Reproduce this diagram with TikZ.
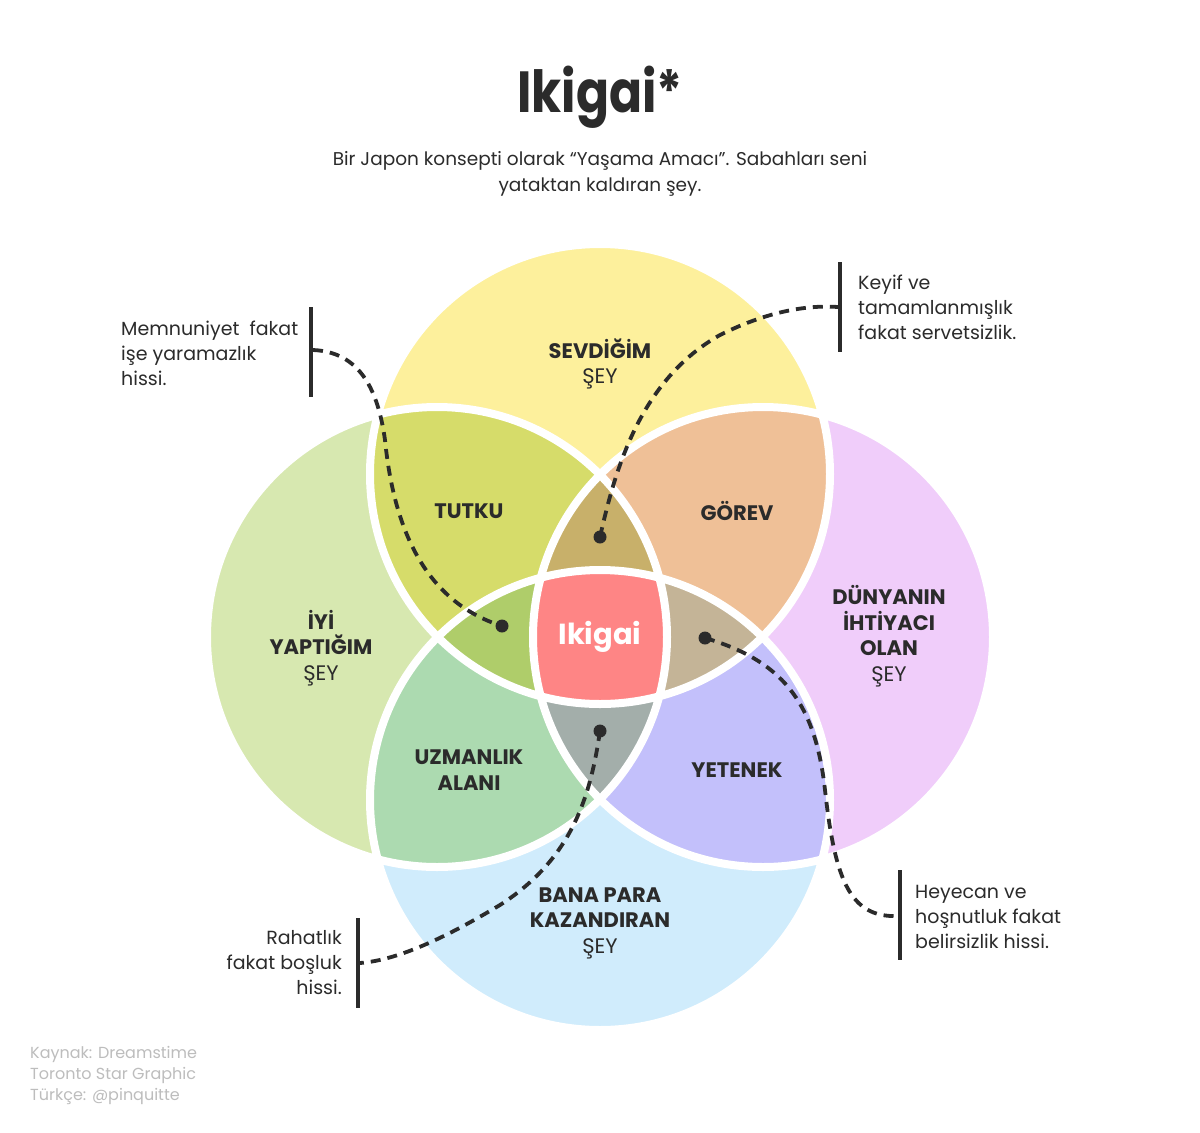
\documentclass[tikz,border=0pt]{standalone}
\usepackage{fontspec}
\setmainfont{Poppins}
\definecolor{ink}{HTML}{2B2B2B}
\definecolor{cTop}{HTML}{FDF09C}
\definecolor{cLeft}{HTML}{D7E8B0}
\definecolor{cRight}{HTML}{F0CDFA}
\definecolor{cBot}{HTML}{D0ECFC}
\definecolor{cTL}{HTML}{D6DC6A}
\definecolor{cTR}{HTML}{EFC097}
\definecolor{cBL}{HTML}{ACDAB0}
\definecolor{cBR}{HTML}{C3C0FB}
\definecolor{cTLR}{HTML}{C8B06A}
\definecolor{cTLB}{HTML}{AFCD6A}
\definecolor{cTRB}{HTML}{C4B497}
\definecolor{cLRB}{HTML}{A3AEAA}
\definecolor{cIki}{HTML}{FE8585}
\definecolor{credit}{HTML}{BDBDBD}
\tikzset{
  lbl/.style={font=\fontsize{21}{25.5}\selectfont, text=ink, align=center, inner sep=0},
  blbl/.style={lbl, font=\fontsize{21}{25.5}\selectfont\bfseries},
  ann/.style={font=\fontsize{19}{25}\selectfont, text=ink, inner sep=0},
  dashline/.style={draw=ink, line width=3.8pt, dash pattern=on 10pt off 7pt},
  barline/.style={draw=ink, line width=3.8pt},
  dotnode/.style={circle, fill=ink, minimum size=13pt, inner sep=0},
  sep/.style={draw=white, line width=8pt}
}
\begin{document}
\begin{tikzpicture}[x=1pt,y=-1pt]
\useasboundingbox (0,0) rectangle (1200,1133);
\fill[white] (0,0) rectangle (1200,1133);
\def\R{230pt}
\coordinate (T) at (600,474);
\coordinate (L) at (437,637);
\coordinate (Rc) at (763,637);
\coordinate (B) at (600,800);
% base circles
\fill[cTop] (T) circle[radius=\R];
\fill[cLeft] (L) circle[radius=\R];
\fill[cRight] (Rc) circle[radius=\R];
\fill[cBot] (B) circle[radius=\R];
% pairs
\begin{scope}\clip (T) circle[radius=\R]; \fill[cTL] (L) circle[radius=\R];\end{scope}
\begin{scope}\clip (T) circle[radius=\R]; \fill[cTR] (Rc) circle[radius=\R];\end{scope}
\begin{scope}\clip (B) circle[radius=\R]; \fill[cBL] (L) circle[radius=\R];\end{scope}
\begin{scope}\clip (B) circle[radius=\R]; \fill[cBR] (Rc) circle[radius=\R];\end{scope}
% triples
\begin{scope}\clip (T) circle[radius=\R]; \clip (L) circle[radius=\R]; \fill[cTLR] (Rc) circle[radius=\R];\end{scope}
\begin{scope}\clip (T) circle[radius=\R]; \clip (L) circle[radius=\R]; \fill[cTLB] (B) circle[radius=\R];\end{scope}
\begin{scope}\clip (T) circle[radius=\R]; \clip (Rc) circle[radius=\R]; \fill[cTRB] (B) circle[radius=\R];\end{scope}
\begin{scope}\clip (B) circle[radius=\R]; \clip (L) circle[radius=\R]; \fill[cLRB] (Rc) circle[radius=\R];\end{scope}
% quadruple
\begin{scope}\clip (T) circle[radius=\R]; \clip (L) circle[radius=\R]; \clip (Rc) circle[radius=\R]; \fill[cIki] (B) circle[radius=\R];\end{scope}
% white separators
\draw[sep] (T) circle[radius=\R];
\draw[sep] (L) circle[radius=\R];
\draw[sep] (Rc) circle[radius=\R];
\draw[sep] (B) circle[radius=\R];

% title
\node[font=\fontsize{58}{60}\selectfont\bfseries, text=ink, inner sep=0] (title) at (600,97) {\scalebox{0.84}[1]{Ikigai*}};
\node[font=\fontsize{18.5}{25.5}\selectfont, text=ink, align=center, inner sep=0] (sub) at (600,174)
  {Bir Japon konsepti olarak “Yaşama Amacı”. Sabahları seni\\yataktan kaldıran şey.};

% region labels
\node[lbl] (sev) at (600,364) {\textbf{SEVDİĞİM}\\ŞEY};
\node[lbl] (iyi) at (321,648) {\textbf{İYİ}\\\textbf{YAPTIĞIM}\\ŞEY};
\node[lbl] (dun) at (889,636) {\textbf{DÜNYANIN}\\\textbf{İHTİYACI}\\\textbf{OLAN}\\ŞEY};
\node[lbl] (bana) at (600,923) {\textbf{BANA PARA}\\\textbf{KAZANDIRAN}\\ŞEY};
\node[blbl] (tutku) at (469,511) {TUTKU};
\node[blbl] (gorev) at (737,511) {GÖREV};
\node[blbl] (uzm) at (469,770) {UZMANLIK\\ALANI};
\node[blbl] (yet) at (737,770) {YETENEK};
\node[font=\fontsize{29}{30}\selectfont\bfseries, text=white, inner sep=0] (iki) at (600,637) {Ikigai};

% annotations
\node[ann, align=left, anchor=west] (a1) at (121,353) {Memnuniyet\ \ fakat\\işe yaramazlık\\hissi.};
\node[ann, align=left, anchor=west] (a2) at (858,307) {Keyif ve\\tamamlanmışlık\\fakat servetsizlik.};
\node[ann, align=right, anchor=east] (a3) at (342,963) {Rahatlık\\fakat boşluk\\hissi.};
\node[ann, align=left, anchor=west] (a4) at (915,917) {Heyecan ve\\hoşnutluk fakat\\belirsizlik hissi.};

% bars
\coordinate (b1t) at (311,307); \coordinate (b1b) at (311,397); \coordinate (b1c) at (313,350);
\coordinate (b2t) at (840,262); \coordinate (b2b) at (840,352); \coordinate (b2c) at (838,307);
\coordinate (b3t) at (358,918); \coordinate (b3b) at (358,1008); \coordinate (b3c) at (360,963);
\coordinate (b4t) at (900,870); \coordinate (b4b) at (900,960); \coordinate (b4c) at (898,916);
\draw[barline] (b1t) -- (b1b);
\draw[barline] (b2t) -- (b2b);
\draw[barline] (b3t) -- (b3b);
\draw[barline] (b4t) -- (b4b);

% dots
\node[dotnode] (d1) at (502,626) {};
\node[dotnode] (d2) at (600,537) {};
\node[dotnode] (d3) at (600,731) {};
\node[dotnode] (d4) at (705,638) {};

% dashed connectors
\draw[dashline] (b1c) .. controls (360,352) and (378,390) .. (385,440) .. controls (393,520) and (420,600) .. (d1.center);
\draw[dashline] (d2.center) .. controls (615,470) and (640,380) .. (720,335) .. controls (770,310) and (810,305) .. (b2c);
\draw[dashline] (d3.center) .. controls (590,800) and (570,860) .. (500,905) .. controls (450,935) and (400,960) .. (b3c);
\draw[dashline] (d4.center) .. controls (780,660) and (815,700) .. (825,790) .. controls (835,880) and (850,918) .. (b4c);

% credits
\node[font=\fontsize{16}{21}\selectfont, text=credit, align=left, anchor=west, inner sep=0] (cred) at (30,1075)
  {Kaynak: Dreamstime\\Toronto Star Graphic\\Türkçe: @pinquitte};
\end{tikzpicture}
\end{document}
